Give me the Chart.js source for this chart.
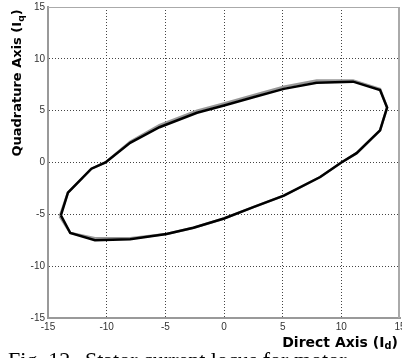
<!DOCTYPE html>
<html>
<head>
<meta charset="utf-8">
<script src="https://cdn.jsdelivr.net/npm/chart.js@4/dist/chart.umd.min.js"></script>
<style>
  html, body { margin: 0; padding: 0; background: #fff; }
  #wrap { width: 402px; height: 358px; overflow: hidden; }
</style>
</head>
<body>
<div id="wrap"><canvas id="locus" width="402" height="358"></canvas></div>
<script>
// stator current locus, two overlapping traces
var traceX1 = [-13.9, -13.3, -11.3, -10.1, -8.0, -5.5, -2.3, 0, 2.5, 5.1, 7.9, 11.0, 13.3, 13.9, 13.3, 11.3, 10.0, 8.2, 5.1, 2.5, 0, -2.6, -4.9, -8.0, -11.0, -13.1, -13.9];
var traceY1 = [-5.1, -2.9, -0.6, 0, 1.9, 3.4, 4.8, 5.5, 6.3, 7.1, 7.7, 7.8, 7.0, 5.3, 3.1, 0.9, 0, -1.4, -3.2, -4.3, -5.4, -6.3, -6.9, -7.4, -7.5, -6.8, -5.1];
var traceX2 = [-14.0, -13.3, -11.3, -10.1, -8.0, -5.5, -2.3, 0, 2.5, 5.1, 7.9, 11.0, 13.3, 13.9, 13.3, 11.3, 10.0, 8.2, 5.1, 2.5, 0, -2.6, -4.9, -8.0, -11.0, -13.1, -14.0];
var traceY2 = [-5.2, -2.9, -0.6, 0, 2.0, 3.6, 5.0, 5.7, 6.5, 7.3, 7.9, 7.9, 7.1, 5.3, 3.1, 0.9, 0, -1.4, -3.2, -4.3, -5.4, -6.3, -6.9, -7.3, -7.3, -6.8, -5.2];
var axisTicks = [-15, -10, -5, 0, 5, 10, 15];

function toPoints(xs, ys) {
    return xs.map(function (x, i) { return { x: x, y: ys[i] }; });
}

// text with a subscript part, e.g. I + q
function subText(ctx, parts, x, y, size) {
    var total = 0;
    parts.forEach(function (p) {
        ctx.font = 'bold ' + (p.sub ? size * 0.7 : size) + 'px "DejaVu Sans"';
        p.w = ctx.measureText(p.t).width;
        total += p.w;
    });
    var cx = x - total / 2;
    parts.forEach(function (p) {
        ctx.font = 'bold ' + (p.sub ? size * 0.7 : size) + 'px "DejaVu Sans"';
        ctx.fillText(p.t, cx, p.sub ? y + size * 0.25 : y);
        cx += p.w;
    });
}

var extras = {
    id: 'extras',
    beforeDatasetsDraw: function (chart) {
        var ctx = chart.ctx, a = chart.chartArea;
        ctx.save();
        // light frame on top / right
        ctx.strokeStyle = '#aaa';
        ctx.lineWidth = 1;
        ctx.beginPath();
        ctx.moveTo(a.left, a.top + 0.5);
        ctx.lineTo(a.right - 0.5, a.top + 0.5);
        ctx.stroke();
        ctx.lineWidth = 2;
        ctx.beginPath();
        ctx.moveTo(a.right - 1, a.top);
        ctx.lineTo(a.right - 1, a.bottom);
        ctx.stroke();
        ctx.restore();
    },
    afterDraw: function (chart) {
        var ctx = chart.ctx;
        ctx.save();
        ctx.fillStyle = '#000';
        ctx.textBaseline = 'middle';
        // y axis title
        ctx.save();
        ctx.translate(18, 83);
        ctx.rotate(-Math.PI / 2);
        subText(ctx, [{ t: 'Quadrature Axis (I' }, { t: 'q', sub: true }, { t: ')' }], 0, 0, 13);
        ctx.restore();
        // x axis title
        subText(ctx, [{ t: 'Direct Axis (I' }, { t: 'd', sub: true }, { t: ')' }], 340, 343, 14);
        // caption, cut by the bottom edge
        ctx.textBaseline = 'alphabetic';
        ctx.font = '22px "Liberation Serif"';
        ctx.fillText('Fig. 12.', 8, 367);
        ctx.fillText('Stator current locus for motor', 85, 367);
        ctx.restore();
    }
};

function gridColor(c) {
    var v = c.tick && c.tick.value;
    return (v === -15 || v === 15) ? 'rgba(0,0,0,0)' : '#444';
}

var ctx = document.getElementById('locus').getContext('2d');
var locusChart = new Chart(ctx, {
    type: 'scatter',
    data: {
        datasets: [{
            label: 'trace 1',
            data: toPoints(traceX1, traceY1),
            showLine: true,
            borderColor: '#000',
            borderWidth: 2.5,
            pointRadius: 0,
            fill: false,
            order: 0
        }, {
            label: 'trace 2',
            data: toPoints(traceX2, traceY2),
            showLine: true,
            borderColor: '#999',
            borderWidth: 2.5,
            pointRadius: 0,
            fill: false,
            order: 1
        }]
    },
    options: {
        responsive: false,
        animation: false,
        layout: { padding: { left: 0, right: 2, top: 7, bottom: 0 } },
        plugins: {
            legend: { display: false },
            tooltip: { enabled: false }
        },
        scales: {
            x: {
                type: 'linear',
                min: -15, max: 15,
                afterBuildTicks: function (s) { s.ticks = axisTicks.map(function (v) { return { value: v }; }); },
                afterFit: function (s) { s.height = 40; s.paddingLeft = 0; s.paddingRight = 0; },
                grid: { color: gridColor, lineWidth: 1, drawTicks: false },
                border: { color: '#999', width: 2, dash: [1, 2] },
                ticks: { padding: 3, color: '#333', font: { family: 'Liberation Sans', size: 10 }, maxRotation: 0 }
            },
            y: {
                type: 'linear',
                min: -15, max: 15,
                afterBuildTicks: function (s) { s.ticks = axisTicks.map(function (v) { return { value: v }; }); },
                afterFit: function (s) { s.width = 48; s.paddingTop = 0; s.paddingBottom = 0; },
                grid: { color: gridColor, lineWidth: 1, drawTicks: false },
                border: { color: '#999', width: 2, dash: [1, 2] },
                ticks: { padding: 3, color: '#333', font: { family: 'Liberation Sans', size: 10 } }
            }
        }
    },
    plugins: [extras]
});
</script>
</body>
</html>
